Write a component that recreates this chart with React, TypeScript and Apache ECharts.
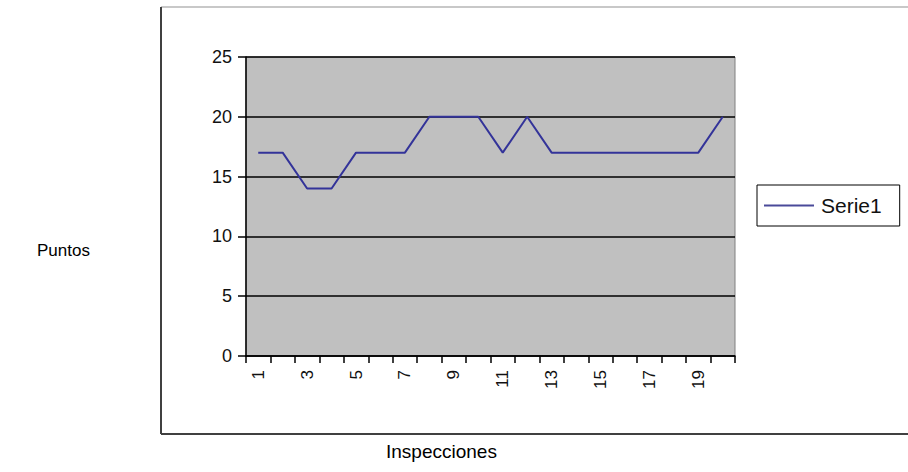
import React, { useEffect, useRef } from "react";
import * as echarts from "echarts";

const categories = ["1","2","3","4","5","6","7","8","9","10","11","12","13","14","15","16","17","18","19","20"];
const serie1 = [17,17,14,14,17,17,17,20,20,20,17,20,17,17,17,17,17,17,17,20];
const seriesName = "Serie1";
const yAxisTitle = "Puntos";
const xAxisTitle = "Inspecciones";

export default function App() {
  const ref = useRef<HTMLDivElement>(null);
  useEffect(() => {
    if (!ref.current) return;
    const chart = echarts.init(ref.current, null, { renderer: "svg" });
    const font = "Liberation Sans, Arial, sans-serif";
    chart.setOption({
      animation: false,
      backgroundColor: "#ffffff",
      grid: { left: 246, right: 173, top: 57, bottom: 116, show: true, backgroundColor: "#c0c0c0", borderColor: "#808080", borderWidth: 1 },
      xAxis: {
        type: "category",
        data: categories,
        boundaryGap: true,
        axisLine: { lineStyle: { color: "#000", width: 1.5 } },
        axisTick: { show: true, interval: 0, length: 7, lineStyle: { color: "#000", width: 1.5 } },
        axisLabel: { interval: 1, rotate: 90, margin: 14, fontSize: 17, color: "#111", fontFamily: font },
        splitLine: { show: false },
      },
      yAxis: {
        type: "value",
        min: 0,
        max: 25,
        interval: 5,
        axisLine: { show: true, lineStyle: { color: "#000", width: 1.5 } },
        axisTick: { show: true, length: 8, lineStyle: { color: "#000", width: 1.5 } },
        axisLabel: { margin: 14, fontSize: 18, color: "#111", fontFamily: font },
        splitLine: { show: true, lineStyle: { color: "#000", width: 1.5 } },
      },
      legend: {
        left: 757,
        top: 185,
        orient: "vertical",
        data: [{ name: seriesName, icon: "rect" }],
        itemWidth: 50,
        itemHeight: 2,
        itemGap: 4,
        padding: [10, 18, 10, 7],
        borderColor: "#000",
        borderWidth: 1,
        textStyle: { fontSize: 21, color: "#111", fontFamily: font, padding: [0, 0, 0, 2] },
      },
      series: [
        {
          name: seriesName,
          type: "line",
          data: serie1,
          symbol: "none",
          lineStyle: { color: "#333399", width: 2 },
          itemStyle: { color: "#4a4a99" },
        },
      ],
      graphic: [
        { type: "line", shape: { x1: 161, y1: 7, x2: 908, y2: 7 }, style: { stroke: "#c8c8c8", lineWidth: 2 } },
        { type: "line", shape: { x1: 161, y1: 7, x2: 161, y2: 434 }, style: { stroke: "#404040", lineWidth: 2 } },
        { type: "line", shape: { x1: 161, y1: 434, x2: 908, y2: 434 }, style: { stroke: "#404040", lineWidth: 2 } },
        { type: "text", left: 37, top: 242, style: { text: yAxisTitle, fontSize: 17, fill: "#000", fontFamily: font } },
        { type: "text", left: 386, top: 442, style: { text: xAxisTitle, fontSize: 19, fill: "#000", fontFamily: font } },
      ],
    });
    return () => chart.dispose();
  }, []);
  return <div ref={ref} style={{ position: "fixed", left: 0, top: 0, width: 908, height: 472 }} />;
}
